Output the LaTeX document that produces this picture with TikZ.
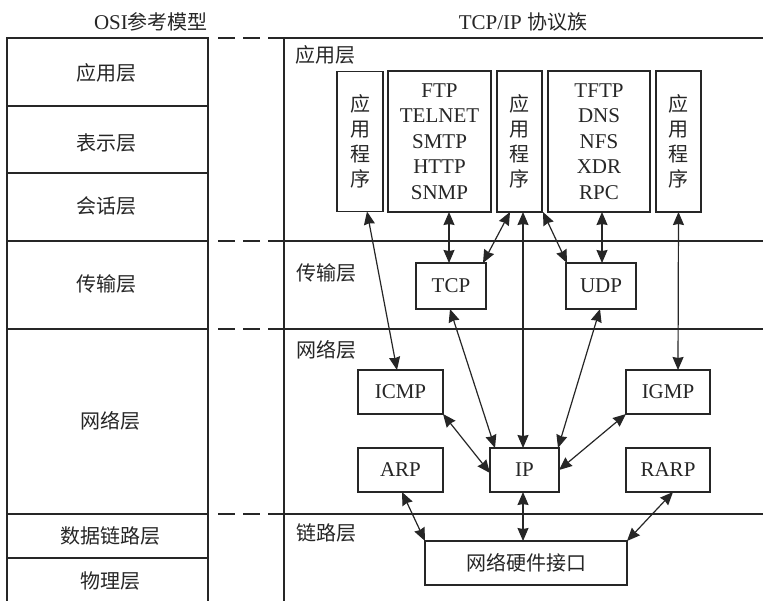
\documentclass[tikz,border=0pt]{standalone}
\usepackage{fontspec}
\setmainfont{Liberation Serif}
\newfontfamily\cjk{Noto Sans CJK SC}
\usetikzlibrary{arrows.meta}
\definecolor{ink}{HTML}{262626}
\begin{document}
\begin{tikzpicture}[x=1pt,y=-1pt,
  box/.style={draw=ink, line width=1.2pt, inner sep=0pt, outer sep=0pt, rectangle, align=center, text=ink},
  lbl/.style={font=\fontsize{20}{24}\selectfont\cjk, inner sep=0pt, text=ink},
  en/.style={font=\fontsize{21}{25.5}\selectfont},
  vert/.style={font=\fontsize{20}{25}\selectfont\cjk},
  hw/.style={font=\fontsize{20}{24}\selectfont\cjk},
  tip/.style={},
  link/.style={draw=ink, line width=1.2pt, {Stealth[length=13pt,width=11pt,inset=1pt]}-{Stealth[length=13pt,width=11pt,inset=1pt]}},
  frame/.style={draw=ink, line width=1.3pt},
  dashline/.style={draw=ink, line width=1.3pt, dash pattern=on 17pt off 8pt}]
\useasboundingbox (0,0) rectangle (763,600);
\fill[white] (0,0) rectangle (763,600);
\clip (0,0) rectangle (763,600);

% headers
\node[inner sep=0pt, text=ink] (hosi) at (151,22) {\fontsize{21}{24}\selectfont OSI{\cjk\fontsize{20}{24}\selectfont 参考模型}};
\node[inner sep=0pt, text=ink] (htcp) at (523,22) {\fontsize{21}{24}\selectfont TCP/IP {\cjk\fontsize{20}{24}\selectfont 协议族}};

% OSI frame
\draw[frame] (7,38) rectangle (208,620);
\foreach \yy in {106,173,241,329,514,558} \draw[frame] (7,\yy) -- (208,\yy);
% TCP/IP frame
\draw[frame] (284,620) -- (284,38) -- (780,38);
\foreach \yy in {241,329,514} \draw[frame] (284,\yy) -- (780,\yy);
% dashed connectors between the two columns
\foreach \yy in {38,241,329,514} \draw[dashline] (218,\yy) -- (284,\yy);

% OSI layer labels
\node[lbl] (o1) at (106,73) {应用层};
\node[lbl] (o2) at (106,143) {表示层};
\node[lbl] (o3) at (106,206) {会话层};
\node[lbl] (o4) at (106,284) {传输层};
\node[lbl] (o5) at (110,421) {网络层};
\node[lbl] (o6) at (110,536) {数据链路层};
\node[lbl] (o7) at (110,581) {物理层};

% TCP/IP layer labels
\node[lbl, anchor=west] (t1) at (295,55) {应用层};
\node[lbl, anchor=west] (t2) at (296,273) {传输层};
\node[lbl, anchor=west] (t3) at (296,350) {网络层};
\node[lbl, anchor=west] (t4) at (296,533) {链路层};

% application boxes
\node[box, vert, minimum width=46pt, minimum height=140pt] (app1) at (360,141.5) {应\\用\\程\\序};
\node[box, en, minimum width=103pt, minimum height=141pt] (ftp) at (439.5,141.5) {FTP\\TELNET\\SMTP\\HTTP\\SNMP};
\node[box, vert, minimum width=45pt, minimum height=141pt] (app3) at (519.5,141.5) {应\\用\\程\\序};
\node[box, en, minimum width=102pt, minimum height=141pt] (tftp) at (599,141.5) {TFTP\\DNS\\NFS\\XDR\\RPC};
\node[box, vert, minimum width=45pt, minimum height=141pt] (app5) at (678.5,141.5) {应\\用\\程\\序};

% transport
\node[box, en, minimum width=70pt, minimum height=46pt] (tcp) at (451,286) {TCP};
\node[box, en, minimum width=70pt, minimum height=46pt] (udp) at (601,286) {UDP};

% network
\node[box, en, minimum width=85pt, minimum height=44pt] (icmp) at (400.5,392) {ICMP};
\node[box, en, minimum width=84pt, minimum height=44pt] (igmp) at (668,392) {IGMP};
\node[box, en, minimum width=85pt, minimum height=44pt] (arp) at (400.5,470) {ARP};
\node[box, en, minimum width=69pt, minimum height=44pt] (ip) at (524.5,470) {IP};
\node[box, en, minimum width=84pt, minimum height=44pt] (rarp) at (668,470) {RARP};

% link
\node[box, hw, minimum width=202pt, minimum height=44pt] (hwi) at (526,563) {网络硬件接口};

% connectors
\draw[link] ([xshift=7pt]app1.south) -- ([xshift=-3.5pt]icmp.north);
\draw[link] ([xshift=9.5pt]ftp.south) -- ([xshift=-2pt]tcp.north);
\draw[link] ([xshift=-9.5pt]app3.south) -- ([xshift=-3pt]tcp.north east);
\draw[link] ([xshift=3.5pt]app3.south) -- ([xshift=-1.5pt]ip.north);
\draw[link] ([xshift=1pt]app3.south east) -- ([xshift=1pt]udp.north west);
\draw[link] ([xshift=3pt]tftp.south) -- ([xshift=1pt]udp.north);
\draw[link] (app5.south) -- ([xshift=10pt]igmp.north);
\draw[link] ([xshift=-1pt]tcp.south) -- ([xshift=5pt]ip.north west);
\draw[link] ([xshift=-1pt]udp.south) -- ([xshift=-1pt]ip.north east);
\draw[link] (icmp.south east) -- ([yshift=-3pt]ip.west);
\draw[link] (igmp.south west) -- (ip.east);
\draw[link] ([xshift=1.5pt]arp.south) -- (hwi.north west);
\draw[link] ([xshift=-1.5pt]ip.south) -- ([xshift=-3pt]hwi.north);
\draw[link] ([xshift=5pt]rarp.south) -- (hwi.north east);
\end{tikzpicture}
\end{document}
